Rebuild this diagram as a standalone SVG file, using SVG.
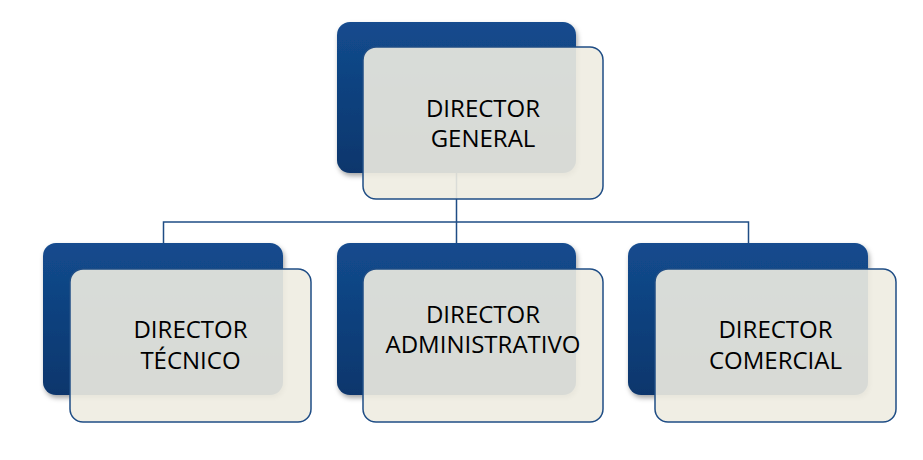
<svg xmlns="http://www.w3.org/2000/svg" width="923" height="460" viewBox="0 0 923 460">
<defs>
<linearGradient id="blue" x1="0" y1="0" x2="0" y2="1">
<stop offset="0" stop-color="#134b8e"/>
<stop offset="1" stop-color="#0a366c"/>
</linearGradient>
<filter id="sh" x="-10%" y="-10%" width="125%" height="130%">
<feDropShadow dx="1.5" dy="3" stdDeviation="2.5" flood-color="#000" flood-opacity="0.35"/>
</filter>
</defs>
<style>
.back{fill:url(#blue);filter:url(#sh)}
.front{fill:#eeece1;fill-opacity:0.9;stroke:#1f4d85;stroke-width:1.5}
.lbl{font-family:"Open Sans","Noto Sans","Liberation Sans",sans-serif;font-size:24px;fill:#000;text-anchor:middle}
.conn{fill:none;stroke:#1f4d85;stroke-width:1.5}
</style>
<g id="connectors">
<path class="conn" d="M456.5 173 V222 M163.5 243 V222 H748.5 V243 M456.5 222 V243"/>
</g>
<g id="node-general">
<rect class="back" x="337" y="22" width="239" height="151" rx="13"/>
<rect class="front" x="363" y="47" width="240" height="152" rx="13"/>
<text class="lbl" x="483" y="117">DIRECTOR</text>
<text class="lbl" x="483" y="147">GENERAL</text>
</g>
<g id="node-tecnico">
<rect class="back" x="43" y="243" width="240" height="152" rx="13"/>
<rect class="front" x="70" y="269" width="241" height="153" rx="13"/>
<text class="lbl" x="190.5" y="338">DIRECTOR</text>
<text class="lbl" x="190.5" y="369">TÉCNICO</text>
</g>
<g id="node-administrativo">
<rect class="back" x="337" y="243" width="239" height="152" rx="13"/>
<rect class="front" x="363" y="269" width="240" height="153" rx="13"/>
<text class="lbl" x="483" y="323">DIRECTOR</text>
<text class="lbl" x="483" y="353">ADMINISTRATIVO</text>
</g>
<g id="node-comercial">
<rect class="back" x="628" y="243" width="240" height="152" rx="13"/>
<rect class="front" x="655" y="269" width="241" height="153" rx="13"/>
<text class="lbl" x="775.5" y="338">DIRECTOR</text>
<text class="lbl" x="775.5" y="369">COMERCIAL</text>
</g>
</svg>
